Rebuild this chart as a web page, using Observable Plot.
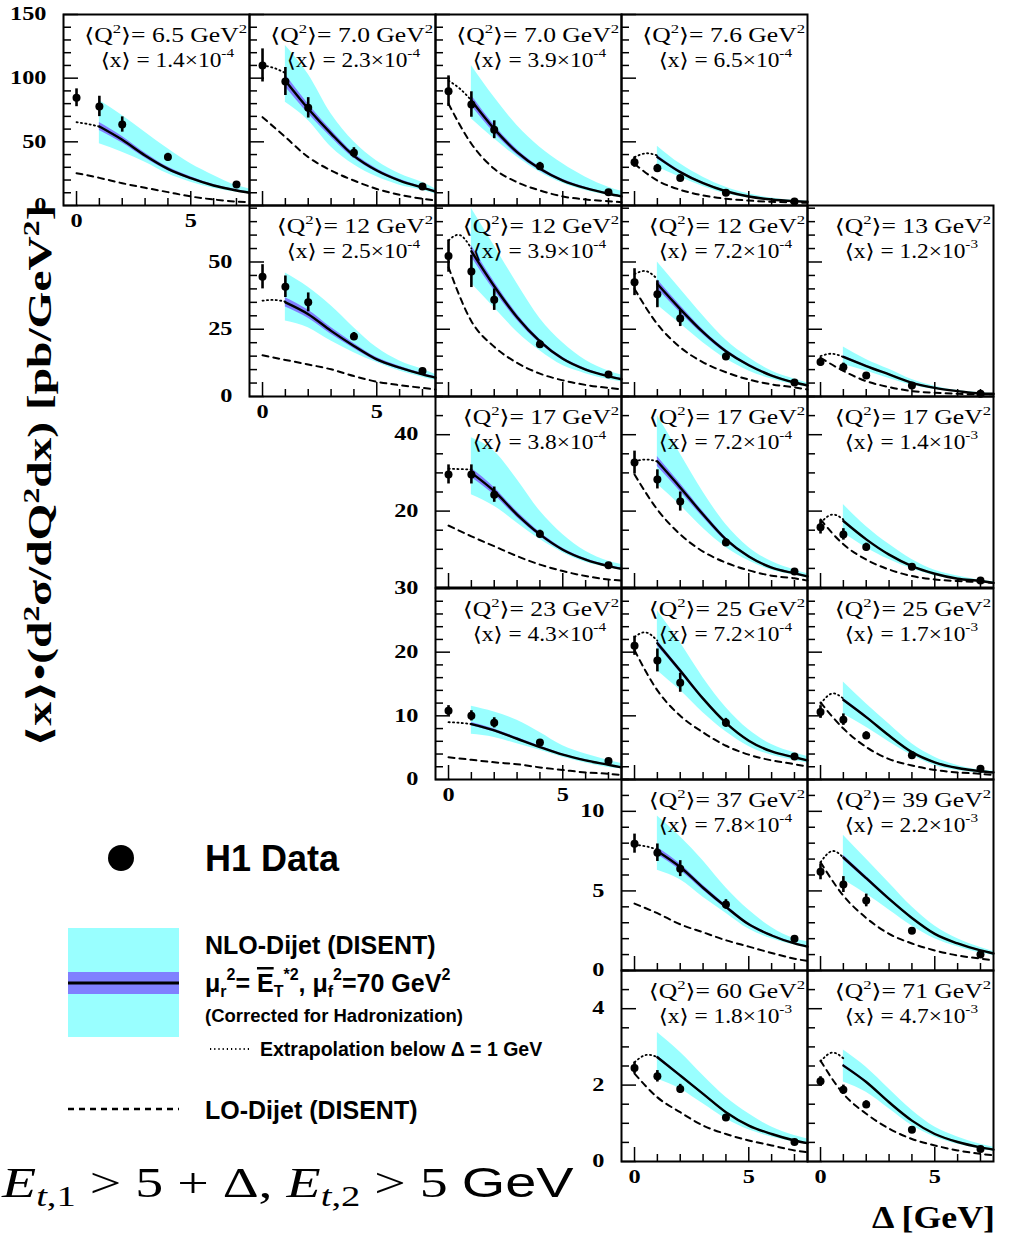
<!DOCTYPE html>
<html><head><meta charset="utf-8">
<script src="https://cdn.jsdelivr.net/npm/d3@7"></script>
<script src="https://cdn.jsdelivr.net/npm/@observablehq/plot@0.6"></script>
<style>
body{margin:0;background:#fff;}
#chart{position:relative;width:1010px;height:1239px;overflow:hidden;background:#fff;}
#chart svg{position:absolute;}
</style></head><body><div id="chart"></div>
<script>
// ---------------- data ----------------
const panelRow = [0,0,0,0,1,1,1,1,2,2,2,3,3,3,4,4,5,5];
const panelCol = [0,1,2,3,1,2,3,4,2,3,4,2,3,4,3,4,3,4];
const q2Label = ["6.5","7.0","7.0","7.6","12","12","12","13","17","17","17","23","25","25","37","39","60","71"];
const xMantissa = ["1.4","2.3","3.9","6.5","2.5","3.9","7.2","1.2","3.8","7.2","1.4","4.3","7.2","1.7","7.8","2.2","1.8","4.7"];
const xExponent = ["-4","-4","-4","-4","-4","-4","-4","-3","-4","-4","-3","-4","-4","-3","-4","-3","-3","-3"];

const rowYMax = [150, 71, 50, 30, 12, 5];
const rowYMajor = [[0,50,100,150],[0,25,50],[0,20,40],[0,10,20,30],[0,5,10],[0,2,4]];
const rowYLabels = [[0,50,100,150],[0,25,50],[20,40],[0,10,20,30],[0,5,10],[0,2,4]];
const rowYMinorStep = [10,5,5,2,1,0.5];
const xMajorTicks = [0,5];
const xMinorTicks = [1,2,3,4,6,7];
const xTickLabels = [0,5];

const deltaData = [0,1,2,4,7];
const h1Values = [
 [84.6,77.8,63.6,38,16.5],[110,97.4,76.7,41.4,14.9],[89.8,79.3,59.5,30.9,10.5],[34,29.3,21.5,10,3.1],
 [44.5,40.8,35,22.3,9.5],[52.2,46.5,36,19.4,8.2],[42.5,38,29,14.9,5.2],[12.8,10.9,7.8,4.1,1.0],
 [29.6,29.6,24.3,14,5.8],[32.7,28.3,22.5,11.8,4.2],[15.8,13.9,10.6,5.4,1.8],
 [10.8,10,8.9,5.8,2.9],[21,18.7,15.2,8.9,3.6],[10.6,9.4,6.9,3.8,1.7],
 [7.97,7.4,6.4,4.15,2.0],[6.2,5.4,4.4,2.5,1.0],
 [2.45,2.23,1.9,1.15,0.51],[2.1,1.88,1.49,0.83,0.33]];
const h1Errors = [
 [7,8,6,3,2],[13,11,8,4,2],[12,10,7,3,2],[4,3,2,1,1],
 [4.5,4,3.5,1.5,1],[6,6,4,1.5,0.8],[5,5,3,1.3,0.6],[1.5,1.5,1,0.5,0.3],
 [2.5,2.5,2,1,0.5],[3,2.5,2.5,1,0.4],[1.8,1.5,1,0.5,0.2],
 [0.8,0.8,0.8,0.4,0.3],[1.5,1.8,1.5,0.7,0.3],[1,0.9,0.6,0.3,0.2],
 [0.6,0.55,0.5,0.3,0.15],[0.5,0.5,0.4,0.2,0.1],
 [0.15,0.15,0.12,0.07,0.04],[0.12,0.12,0.1,0.06,0.03]];

const nloDelta = [1,2,3,4,5,6,7,7.57];
const nloCentral = [
 [62,51.6,39.3,28.8,21.5,15.7,11.8,10],[98,76,56.5,39,27.5,19.6,14,11],[82.5,60.2,41.9,28.8,19.6,13.6,9.2,7.1],[38,26.2,17.5,11.2,7.1,4.7,3.4,2.9],
 [35,30.6,24.4,18.8,13.8,10.7,8.2,7],[54,41,29.5,20.5,14,10,7.5,6.4],[41.8,32.5,23.9,16.8,11.6,7.8,5.2,4.1],[14.7,11.3,8.2,5.1,3.2,2,1.1,1],
 [30,25.2,19.1,13.9,9.9,7.3,5.6,4.9],[33,26.2,19.1,12.6,8.1,5.2,3.7,2.9],[17.4,12.6,8.6,5.6,3.6,2.3,1.7,1.2],
 [8.7,7.7,6.4,5.1,3.9,3,2.3,1.9],[21.4,17.1,12.7,8.9,6.1,4.4,3.5,3],[12.5,9.8,6.9,4.3,2.7,1.8,1.3,1.1],
 [7.5,6.5,5.2,4,2.9,2.2,1.7,1.5],[7.1,5.8,4.5,3.3,2.3,1.7,1.26,1.07],
 [2.73,2.25,1.77,1.29,0.94,0.72,0.55,0.48],[2.51,2.08,1.55,1.07,0.72,0.51,0.37,0.31]];
const nloLow = [
 [48.5,41.9,34,24.9,18.3,13.6,10.5,9.2],[81,66.8,46,32,22.5,16,12,9],[68.1,52.4,38,26.2,17.5,11.8,7.9,6.5],[30,22.2,14.9,9.2,5.8,3.9,2.6,2.4],
 [28.1,25.6,20.6,16.3,12.6,9.5,7.2,6],[42,33,24,17,11.5,8.5,6.3,5.5],[34,27,20,14,9.5,6.5,4.4,3.6],[11.9,9.5,6.7,4.2,2.6,1.6,1,0.8],
 [24.3,21.3,16.9,12.6,9.1,6.6,5.2,4.5],[27,21.5,15.5,10.5,7,4.5,3.2,2.5],[14.3,10.4,7.3,4.9,3.1,2.1,1.4,1],
 [7.1,6.6,5.6,4.6,3.5,2.6,1.9,1.7],[17.1,14,10.5,7.5,5.2,3.8,3,2.6],[10.3,8.2,5.9,3.8,2.2,1.4,1,0.9],
 [6.3,5.7,4.6,3.6,2.6,2,1.6,1.4],[5.7,4.8,3.8,2.8,2,1.5,1.1,0.95],
 [2.16,1.9,1.51,1.12,0.83,0.64,0.51,0.45],[2.08,1.81,1.38,0.94,0.64,0.45,0.33,0.27]];
const nloHigh = [
 [82.5,70.7,57.6,44.5,32.7,23.6,15.7,13],[125.7,103,72,50,35,25,18,13],[110,85,62.8,45.8,32.7,22.2,14.4,11.2],[46.6,32.7,22.2,14.4,9.2,5.8,3.9,3.4],
 [45.9,40.6,33.7,25.6,18.2,13.2,10.1,8.2],[70,56,42,29,20,13.5,9.5,8],[50,40,30,21,14.5,9.5,6.5,5],[18.4,13.8,10.1,6.3,3.8,2.2,1.4,1.1],
 [39.2,35.7,28.3,20,13.9,9.5,6.9,6],[45,35,25,16.5,10.5,6.8,4.6,3.6],[21.7,16,11.3,7.3,4.5,3,1.9,1.5],
 [11.5,10.6,9.3,7.4,5.3,4,3,2.5],[26.5,21.5,16,11.3,7.8,5.5,4.2,3.6],[15.3,11.9,8.7,5.6,3.5,2.2,1.5,1.3],
 [9.7,8.4,6.9,5.2,3.8,2.7,2,1.8],[8.5,7,5.5,4,2.8,2,1.45,1.2],
 [3.38,2.86,2.25,1.68,1.25,0.9,0.68,0.59],[2.92,2.47,1.9,1.34,0.9,0.64,0.45,0.37]];
// relative half-width of the hadronisation (purple) band
const hadrRel = [0.05,0.05,0.05,0.04,0.05,0.04,0.04,0.03,0.04,0.04,0.02,0.03,0.02,0.02,0.03,0.02,0.015,0.015];

const extrapDelta = [0,0.5,1];
const extrapValues = [
 [65.4,64,62],[110,108,104],[98,91.7,82.5],[38,41,39.3],
 [35.6,35.9,35.3],[58,60,55],[45.5,46.6,43.7],[15,15.9,14.7],
 [31.1,31,30.9],[33,33.5,33],[16.9,19.1,17.8],
 [9,8.9,8.7],[22.4,23.1,21.8],[11.9,13.5,12.7],
 [7.9,7.8,7.6],[6.8,7.5,7.1],
 [2.6,2.79,2.73],[2.62,2.85,2.7]];

const loDelta = [0,1,2,3,4,5,6,7,7.57];
const loValues = [
 [25.4,21.7,17.5,13.9,10.5,7.1,4.7,3.1,2.6],[69.4,53.7,38,27.5,19.6,13,8.4,5.3,3.9],[79.9,48.5,28.8,18.3,11.8,7.1,4.7,3.4,2.6],[32.7,19.6,12.3,7.9,5.3,3.9,2.9,2.4,2.1],
 [15.3,13.6,11.9,10.1,7.6,5.5,4.2,3.2,2.6],[48,28,18.5,12.5,8.5,6,4.3,3.2,2.7],[40,26.9,18.3,12.7,9,6.3,4.5,3.4,2.6],[14.4,9.5,5.7,3.5,2,1.4,1,0.8,0.8],
 [16.2,13.4,10.8,8.2,6,4.3,3,2.1,1.8],[29.6,20.4,13.9,9.4,6.5,4.5,3.1,2.4,1.8],[17.8,11.3,7.3,4.7,3,2.1,1.7,1.4,1.2],
 [3.5,3.1,2.7,2.4,1.9,1.5,1.1,0.9,0.7],[20.3,14,10,7.4,5.3,3.9,3,2.4,2],[12.1,8,5.1,3.2,2.2,1.5,1.1,0.9,0.7],
 [4.2,3.6,2.9,2.4,1.9,1.5,1.1,0.74,0.6],[6.8,4.7,3.3,2.3,1.7,1.26,0.94,0.75,0.63],
 [2.3,1.68,1.29,0.94,0.72,0.55,0.42,0.29,0.24],[2.64,1.77,1.25,0.86,0.59,0.42,0.29,0.2,0.16]];

// ---------------- layout ----------------
const SERIF = "'Liberation Serif','Times New Roman',Times,'DejaVu Serif',serif";
const SANS = "'Liberation Sans',Arial,Helvetica,sans-serif";
const GRID_LEFT = 63, GRID_TOP = 14, COLW = 186, ROWH = 191.2;
const ML = 70, MR = 8, MT = 8, MB = 36;
const CYAN = "#99ffff", PURPLE = "#8080ff";
const chart = document.getElementById("chart");

function isBottomOfColumn(i) {
  const r = panelRow[i], c = panelCol[i];
  return !panelRow.some((rr, j) => panelCol[j] === c && rr === r + 1);
}
function isFirstInRow(i) {
  const r = panelRow[i];
  return panelCol[i] === Math.min(...panelCol.filter((c, j) => panelRow[j] === r));
}
function stretchText(svg, sx) {
  for (const t of svg.querySelectorAll('g[aria-label="text"] text')) {
    const tr = t.getAttribute("transform");
    if (tr) t.setAttribute("transform", tr + ` scale(${sx},1)`);
    else {
      const x = +t.getAttribute("x") || 0;
      t.setAttribute("x", 0);
      t.setAttribute("transform", `translate(${x},0) scale(${sx},1)`);
    }
  }
}

panelRow.forEach((r, i) => {
  const c = panelCol[i];
  const ymax = rowYMax[r];
  const h = Math.round(ROWH);
  const nloRows = nloDelta.map((d, j) => ({d, c: nloCentral[i][j], lo: nloLow[i][j], hi: nloHigh[i][j],
    hlo: nloCentral[i][j] * (1 - hadrRel[i]), hhi: nloCentral[i][j] * (1 + hadrRel[i])}));
  const exRows = extrapDelta.map((d, j) => ({d, v: extrapValues[i][j]}));
  const loRows = loDelta.map((d, j) => ({d, v: loValues[i][j]}));
  const dataRows = deltaData.map((d, j) => ({d, v: h1Values[i][j], lo: h1Values[i][j] - h1Errors[i][j], hi: h1Values[i][j] + h1Errors[i][j]}));
  const yMinor = d3.range(0, ymax + 1e-9, rowYMinorStep[r]).filter(v => !rowYMajor[r].includes(v));

  const marks = [
    Plot.areaY(nloRows, {x: "d", y1: "lo", y2: "hi", fill: CYAN, curve: "monotone-x"}),
    Plot.areaY(nloRows, {x: "d", y1: "hlo", y2: "hhi", fill: PURPLE, curve: "monotone-x"}),
    Plot.line(nloRows, {x: "d", y: "c", stroke: "black", strokeWidth: 2.4, curve: "monotone-x"}),
    Plot.line(exRows, {x: "d", y: "v", stroke: "black", strokeWidth: 1.8, strokeDasharray: "1.2,3.2", curve: "natural"}),
    Plot.line(loRows, {x: "d", y: "v", stroke: "black", strokeWidth: 2, strokeDasharray: "6,5", curve: "monotone-x"}),
    Plot.ruleX(dataRows, {x: "d", y1: "lo", y2: "hi", stroke: "black", strokeWidth: 2.6}),
    Plot.dot(dataRows, {x: "d", y: "v", r: 4, fill: "black", stroke: null}),
    Plot.tickX(xMajorTicks, {x: d => d, insetTop: h - 14, stroke: "black", strokeWidth: 1.5}),
    Plot.tickX(xMinorTicks, {x: d => d, insetTop: h - 7, stroke: "black", strokeWidth: 1.5}),
    Plot.tickY(rowYMajor[r], {y: d => d, insetRight: COLW - 15, stroke: "black", strokeWidth: 1.5}),
    Plot.tickY(yMinor, {y: d => d, insetRight: COLW - 8, stroke: "black", strokeWidth: 1.5}),
    Plot.frame({stroke: "black", strokeWidth: 2})
  ];
  if (isFirstInRow(i)) {
    marks.push(Plot.text(rowYLabels[r], {y: d => d, text: d => String(d), frameAnchor: "left", textAnchor: "end",
      dx: -17, fontFamily: SERIF, fontWeight: "bold", fontSize: 18, fill: "black"}));
  }
  if (isBottomOfColumn(i)) {
    marks.push(Plot.text(xTickLabels, {x: d => d, text: d => String(d), frameAnchor: "bottom", dy: 21,
      fontFamily: SERIF, fontWeight: "bold", fontSize: 18, fill: "black"}));
  }

  const svg = Plot.plot({
    width: COLW + ML + MR, height: h + MT + MB,
    marginLeft: ML, marginRight: MR, marginTop: MT, marginBottom: MB,
    x: {domain: [-0.57, 7.57], axis: null},
    y: {domain: [0, ymax], axis: null},
    style: {background: "transparent", overflow: "visible", maxWidth: "none"},
    marks
  });
  svg.style.left = (GRID_LEFT + c * COLW - ML) + "px";
  svg.style.top = (GRID_TOP + Math.round(r * ROWH) - MT) + "px";
  chart.appendChild(svg);
  stretchText(svg, 1.35);

  // panel annotation
  const g = d3.select(svg).append("g").attr("font-family", SERIF).attr("font-size", 20).attr("fill", "black");
  const rx = ML + COLW - 2;
  const t1 = g.append("text").attr("text-anchor", "end").attr("transform", `translate(${rx},${MT + 28}) scale(1.28,1)`);
  t1.append("tspan").text("⟨Q");
  t1.append("tspan").attr("dy", -9).attr("font-size", 13).text("2");
  t1.append("tspan").attr("dy", 9).text(`⟩= ${q2Label[i]} GeV`);
  t1.append("tspan").attr("dy", -9).attr("font-size", 13).text("2");
  const t2 = g.append("text").attr("text-anchor", "end").attr("transform", `translate(${rx - 13},${MT + 53}) scale(1.17,1)`);
  t2.append("tspan").text(`⟨x⟩ = ${xMantissa[i]}×10`);
  t2.append("tspan").attr("dy", -10).attr("font-size", 13).text(xExponent[i]);
});

// ---------------- overlay: titles & legend ----------------
const ov = d3.select(chart).append("svg").attr("width", 1010).attr("height", 1239).style("left", "0px").style("top", "0px");

function addSup(t, s, size, dy) { t.append("tspan").attr("dy", -dy).attr("font-size", size).text(s); }
// y title
const yt = ov.append("text").attr("font-family", SERIF).attr("font-weight", "bold").attr("font-size", 30).attr("text-anchor", "middle");
yt.append("tspan").text("⟨x⟩•(d");
addSup(yt, "2", 20, 11);
yt.append("tspan").attr("dy", 11).text("σ/dQ");
addSup(yt, "2", 20, 11);
yt.append("tspan").attr("dy", 11).text("dx) [pb/GeV");
addSup(yt, "2", 20, 11);
yt.append("tspan").attr("dy", 11).text("]");
{
  const w = yt.node().getBBox().width;
  yt.attr("transform", `translate(51,476) rotate(-90) scale(${543 / w},1.12)`);
}
// x title
ov.append("text").attr("font-family", SERIF).attr("font-weight", "bold").attr("font-size", 32)
  .attr("text-anchor", "end").attr("transform", "translate(995,1228) scale(1.12,1)").text("Δ [GeV]");

// legend
ov.append("circle").attr("cx", 121).attr("cy", 858).attr("r", 13).attr("fill", "black");
ov.append("text").attr("x", 205).attr("y", 871).attr("font-family", SANS).attr("font-weight", "bold").attr("font-size", 36).text("H1 Data");

ov.append("rect").attr("x", 68).attr("y", 928).attr("width", 111).attr("height", 109).attr("fill", CYAN);
ov.append("rect").attr("x", 68).attr("y", 972).attr("width", 111).attr("height", 22).attr("fill", PURPLE);
ov.append("line").attr("x1", 68).attr("x2", 179).attr("y1", 983).attr("y2", 983).attr("stroke", "black").attr("stroke-width", 3);

const lg = ov.append("g").attr("font-family", SANS).attr("font-weight", "bold").attr("fill", "black");
lg.append("text").attr("x", 205).attr("y", 954).attr("font-size", 25).text("NLO-Dijet (DISENT)");
const mu = lg.append("text").attr("x", 205).attr("y", 992).attr("font-size", 25);
mu.append("tspan").text("μ");
mu.append("tspan").attr("dy", 5).attr("font-size", 16).text("r");
mu.append("tspan").attr("dy", -17).attr("font-size", 16).text("2");
mu.append("tspan").attr("dy", 12).text("= ");
mu.append("tspan").attr("text-decoration", "overline").text("E");
mu.append("tspan").attr("dy", 5).attr("font-size", 16).text("T");
mu.append("tspan").attr("dy", -17).attr("font-size", 16).text("*2");
mu.append("tspan").attr("dy", 12).text(", μ");
mu.append("tspan").attr("dy", 5).attr("font-size", 16).text("f");
mu.append("tspan").attr("dy", -17).attr("font-size", 16).text("2");
mu.append("tspan").attr("dy", 12).text("=70 GeV");
mu.append("tspan").attr("dy", -12).attr("font-size", 16).text("2");
lg.append("text").attr("x", 205).attr("y", 1022).attr("font-size", 18.5).text("(Corrected for Hadronization)");
ov.append("line").attr("x1", 210).attr("x2", 250).attr("y1", 1049).attr("y2", 1049).attr("stroke", "black").attr("stroke-width", 2).attr("stroke-dasharray", "1.2,3");
lg.append("text").attr("x", 260).attr("y", 1056).attr("font-size", 19.5).text("Extrapolation below Δ = 1 GeV");
ov.append("line").attr("x1", 68).attr("x2", 179).attr("y1", 1109).attr("y2", 1109).attr("stroke", "black").attr("stroke-width", 2.5).attr("stroke-dasharray", "6,5");
lg.append("text").attr("x", 205).attr("y", 1119).attr("font-size", 25).text("LO-Dijet (DISENT)");

// kinematic cut formula
const ft = ov.append("text").attr("font-family", SERIF).attr("font-size", 42).attr("fill", "black");
ft.append("tspan").attr("font-style", "italic").text("E");
ft.append("tspan").attr("dy", 9).attr("font-size", 29).attr("font-style", "italic").text("t");
ft.append("tspan").attr("font-size", 29).text(",1");
ft.append("tspan").attr("dy", -9).text(" > 5 + Δ, ");
ft.append("tspan").attr("font-style", "italic").text("E");
ft.append("tspan").attr("dy", 9).attr("font-size", 29).attr("font-style", "italic").text("t");
ft.append("tspan").attr("font-size", 29).text(",2");
ft.append("tspan").attr("dy", -9).text(" > 5 ");
ft.append("tspan").attr("font-family", SANS).text("GeV");
{
  const w = ft.node().getBBox().width;
  ft.attr("transform", `translate(2,1197) scale(${573 / w},1)`);
}
</script></body></html>
